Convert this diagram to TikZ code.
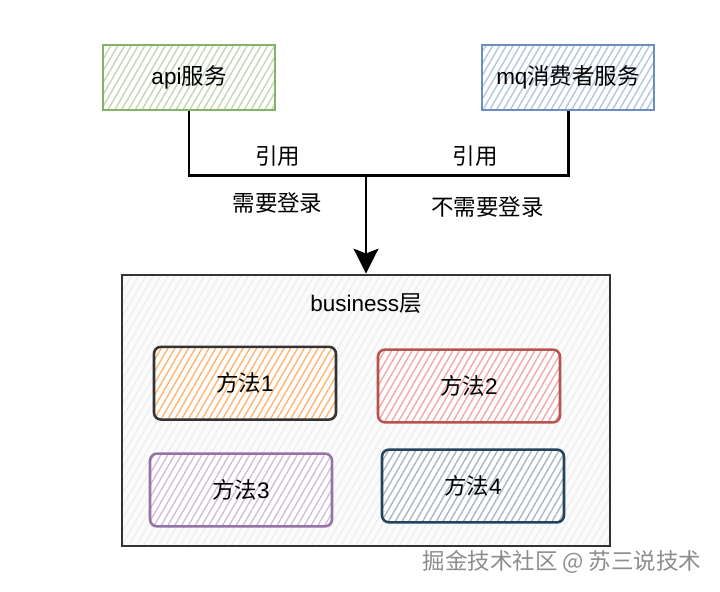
\documentclass[tikz,border=0pt]{standalone}
\usepackage{fontspec}
\setmainfont{Liberation Sans}
\newfontfamily\cjk{Noto Sans CJK SC}
\definecolor{ApiColor}{HTML}{82B366}
\definecolor{MqColor}{HTML}{6C8EBF}
\definecolor{LayerColor}{HTML}{333333}
\definecolor{OneColor}{HTML}{FFB570}
\definecolor{TwoColor}{HTML}{B85450}
\definecolor{TwoLight}{HTML}{F2A9A6}
\definecolor{ThreeColor}{HTML}{9673A6}
\definecolor{FourColor}{HTML}{23445D}
\usetikzlibrary{positioning, arrows.meta, patterns.meta}
\tikzset{
    base/.style={
        draw,
        line width=1.5pt,
        minimum width=4.3cm,
        minimum height=1.62cm,
        align=center,
        font=\fontsize{16}{19}\selectfont,
        inner sep=4pt
    },
    hatch/.style={preaction={fill=white}, preaction={pattern={Lines[angle=60,distance=4.2pt,line width=1pt]}, pattern color=#1}},
    service/.style={base, draw=#1, hatch=#1!50},
    method/.style={base, rounded corners=5pt, line width=1.8pt, minimum width=4.55cm, minimum height=1.82cm}
}

\begin{document}
\begin{tikzpicture}[
            label/.style={font=\fontsize{16}{19}\selectfont\cjk, inner sep=2pt},
            layer/.style={draw=LayerColor, line width=1.8pt, minimum width=12.2cm, minimum height=6.78cm, preaction={fill=black!1.5}, preaction={pattern={Lines[angle=60,distance=4.5pt,line width=0.8pt]}, pattern color=black!7}},
            arrow/.style={-{Stealth[width=0.62cm,length=0.62cm,inset=0.12cm]}, line width=2pt, draw=black},
            link/.style={line width=2pt, draw=black}
        ]
            \useasboundingbox (0,0) rectangle (18,14.8);

            % Nodes
            \node[service=ApiColor] (api) at (4.725,12.86) {api{\cjk 服务}};
            \node[service=MqColor, right=5.125cm of api] (mq) {mq{\cjk 消费者服务}};
            \node[layer] (biz) at (9.15,4.54) {};
            \node[label, font=\fontsize{16}{19}\selectfont, below=0.42cm of biz.north] (biztitle) {business{\cjk 层}};
            \node[method, draw=LayerColor, hatch=OneColor] (m1) at (6.125,5.22) {{\cjk 方法}1};
            \node[method, draw=TwoColor, hatch=TwoLight] (m2) at (11.725,5.15) {{\cjk 方法}2};
            \node[method, draw=ThreeColor, hatch=ThreeColor!45] (m3) at (6.025,2.55) {{\cjk 方法}3};
            \node[method, draw=FourColor, hatch=FourColor!38] (m4) at (11.825,2.65) {{\cjk 方法}4};
            \coordinate[above=2.45cm of biz.north] (join);

            % Arrows
            \draw[link] (api.south) |- node[pos=0.75, above=0.12cm, label] (ref1) {引用}
                                       node[pos=0.75, below=0.32cm, label] (login) {需要登录} (join);
            \draw[link] (mq.south) |- node[pos=0.73, above=0.12cm, label] (ref2) {引用}
                                      node[pos=0.7, below=0.42cm, label] (nologin) {不需要登录} (join);
            \draw[arrow] (join) -- (biz.north);

            % Watermark
            \node[label, text=black!45] (mark) at (14.05,0.75) {掘金技术社区 @ 苏三说技术};
        \end{tikzpicture}
\end{document}
